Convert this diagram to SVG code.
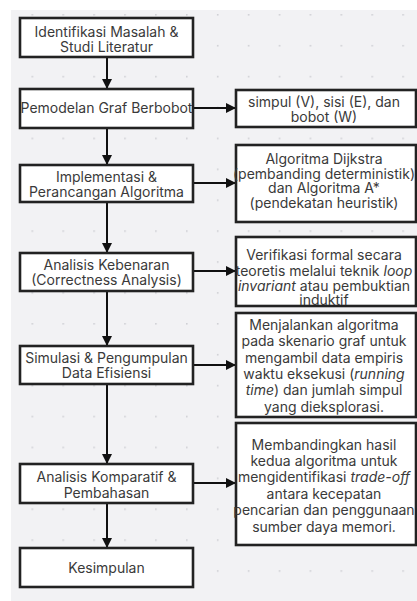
<svg xmlns="http://www.w3.org/2000/svg" width="417" height="601" viewBox="0 0 417 601">
<defs>
<pattern id="dots" x="0.6" y="14" width="30.9" height="30.9" patternUnits="userSpaceOnUse">
<rect x="0" y="0" width="1.6" height="1.6" fill="#cfd0d4"/>
</pattern>
<marker id="ah" viewBox="0 0 10 10" refX="10" refY="5" markerWidth="10" markerHeight="10" markerUnits="userSpaceOnUse" orient="auto">
<path d="M0,0 L10,5 L0,10 Z" fill="#111"/>
</marker>
<style>
.box{fill:#fff;stroke:#222;stroke-width:2.6}
.t{font-family:Inter,"Noto Sans",sans-serif;font-size:14px;fill:#3a3a3a;text-anchor:middle}
.c{stroke:#111;stroke-width:2;fill:none}
.i{font-style:italic}
</style>
</defs>
<rect x="0" y="0" width="417" height="601" fill="#fff"/>
<rect x="11" y="10" width="406" height="591" fill="#f2f2f4"/>
<rect x="11" y="10" width="406" height="591" fill="url(#dots)"/>

<g id="connectors">
<line class="c" x1="107" y1="57" x2="107" y2="89" marker-end="url(#ah)"/>
<line class="c" x1="107" y1="128" x2="107" y2="165" marker-end="url(#ah)"/>
<line class="c" x1="107" y1="202" x2="107" y2="253" marker-end="url(#ah)"/>
<line class="c" x1="107" y1="291" x2="107" y2="346" marker-end="url(#ah)"/>
<line class="c" x1="107" y1="384" x2="107" y2="464" marker-end="url(#ah)"/>
<line class="c" x1="107" y1="503" x2="107" y2="548" marker-end="url(#ah)"/>
<line class="c" x1="193" y1="108" x2="236" y2="108" marker-end="url(#ah)"/>
<line class="c" x1="193" y1="183" x2="236" y2="183" marker-end="url(#ah)"/>
<line class="c" x1="193" y1="271" x2="236" y2="271" marker-end="url(#ah)"/>
<line class="c" x1="193" y1="365" x2="236" y2="365" marker-end="url(#ah)"/>
<line class="c" x1="193" y1="483" x2="236" y2="483" marker-end="url(#ah)"/>
</g>

<g id="n1">
<rect class="box" x="20" y="18" width="173" height="39"/>
<text class="t" x="106.5" y="37">Identifikasi Masalah &amp;</text>
<text class="t" x="106.5" y="52">Studi Literatur</text>
</g>
<g id="n2">
<rect class="box" x="20" y="89" width="173" height="39"/>
<text class="t" x="106.5" y="113.3">Pemodelan Graf Berbobot</text>
</g>
<g id="n3">
<rect class="box" x="20" y="165" width="173" height="37"/>
<text class="t" x="106.5" y="181.7">Implementasi &amp;</text>
<text class="t" x="106.5" y="197.3">Perancangan Algoritma</text>
</g>
<g id="n4">
<rect class="box" x="20" y="253" width="173" height="38"/>
<text class="t" x="106.5" y="270">Analisis Kebenaran</text>
<text class="t" x="106.5" y="285">(Correctness Analysis)</text>
</g>
<g id="n5">
<rect class="box" x="20" y="346" width="173" height="38"/>
<text class="t" x="106.5" y="363.3">Simulasi &amp; Pengumpulan</text>
<text class="t" x="106.5" y="378.3">Data Efisiensi</text>
</g>
<g id="n6">
<rect class="box" x="20" y="464" width="173" height="39"/>
<text class="t" x="106.5" y="481.7">Analisis Komparatif &amp;</text>
<text class="t" x="106.5" y="498.3">Pembahasan</text>
</g>
<g id="n7">
<rect class="box" x="20" y="548" width="173" height="39"/>
<text class="t" x="106.5" y="573.3">Kesimpulan</text>
</g>

<g id="r1">
<rect class="box" x="236" y="90" width="180" height="37"/>
<text class="t" x="324" y="106.5">simpul (V), sisi (E), dan</text>
<text class="t" x="324" y="121.5">bobot (W)</text>
</g>
<g id="r2">
<rect class="box" x="236" y="145" width="180" height="77"/>
<text class="t" x="324" y="164">Algoritma Dijkstra</text>
<text class="t" x="324" y="178.7">(pembanding deterministik)</text>
<text class="t" x="324" y="193.4">dan Algoritma A*</text>
<text class="t" x="324" y="208.1">(pendekatan heuristik)</text>
</g>
<g id="r3">
<rect class="box" x="236" y="237" width="180" height="69"/>
<text class="t" x="324" y="260">Verifikasi formal secara</text>
<text class="t" x="324" y="275.5">teoretis melalui teknik <tspan class="i">loop</tspan></text>
<text class="t" x="324" y="291"><tspan class="i">invariant</tspan> atau pembuktian</text>
<text class="t" x="324" y="305">induktif</text>
</g>
<g id="r4">
<rect class="box" x="236" y="313" width="180" height="104"/>
<text class="t" x="324" y="330">Menjalankan algoritma</text>
<text class="t" x="324" y="346.3">pada skenario graf untuk</text>
<text class="t" x="324" y="362.6">mengambil data empiris</text>
<text class="t" x="324" y="378.9">waktu eksekusi (<tspan class="i">running</tspan></text>
<text class="t" x="324" y="395.2"><tspan class="i">time</tspan>) dan jumlah simpul</text>
<text class="t" x="324" y="411.5">yang dieksplorasi.</text>
</g>
<g id="r5">
<rect class="box" x="236" y="423" width="180" height="122"/>
<text class="t" x="324" y="449.5">Membandingkan hasil</text>
<text class="t" x="324" y="465.9">kedua algoritma untuk</text>
<text class="t" x="324" y="482.3">mengidentifikasi <tspan class="i">trade-off</tspan></text>
<text class="t" x="324" y="498.7">antara kecepatan</text>
<text class="t" x="324" y="515.1">pencarian dan penggunaan</text>
<text class="t" x="324" y="531.5">sumber daya memori.</text>
</g>
</svg>
